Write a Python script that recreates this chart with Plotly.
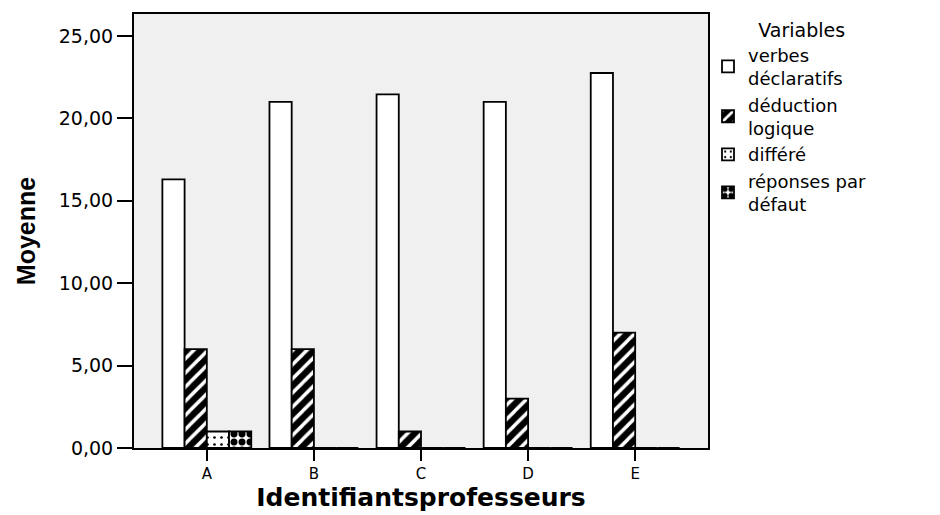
import plotly.graph_objects as go

categories = ["A", "B", "C", "D", "E"]
series_names = ["verbes<br>déclaratifs", "déduction<br>logique", "différé", "réponses par<br>défaut"]
verbes = [16.3, 21.0, 21.45, 21.0, 22.75]
deduction = [6.0, 6.0, 1.0, 3.0, 7.0]
differe = [1.0, 0, 0, 0, 0]
defaut = [1.0, 0, 0, 0, 0]
y_ticks = [0, 5, 10, 15, 20, 25]

patterns = [
    dict(shape=""),
    dict(shape="/", bgcolor="black", fgcolor="white", solidity=0.35, size=10, fillmode="replace"),
    dict(shape=".", bgcolor="white", fgcolor="black", solidity=0.12, size=7, fillmode="replace"),
    dict(shape=".", bgcolor="white", fgcolor="black", solidity=0.6, size=8, fillmode="replace"),
]
values = [verbes, deduction, differe, defaut]

fig = go.Figure()
for i, (name, vals, pat) in enumerate(zip(series_names, values, patterns)):
    fig.add_trace(go.Bar(
        x=categories, y=vals, name=name, legendgroup=f"g{i}",
        marker=dict(color="white", line=dict(color="black", width=1.8), pattern=pat),
    ))

wide = "DejaVu Sans, Verdana, sans-serif"
fig.update_layout(
    width=932, height=507,
    barmode="group", bargap=0.17, bargroupgap=0,
    plot_bgcolor="#f0f0f0", paper_bgcolor="white",
    separators=", ",
    margin=dict(l=126, r=232, t=4, b=67),
    font=dict(family=wide, color="black", size=16),
    showlegend=True,
    legend=dict(
        x=1.0, y=1.005, xanchor="left", yanchor="top",
        title=dict(text="        Variables", font=dict(size=19)),
        font=dict(size=18), tracegroupgap=0, itemwidth=30,
        bgcolor="rgba(0,0,0,0)",
    ),
    xaxis=dict(
        range=[-0.68, 4.68], showline=True, linecolor="black", linewidth=2, mirror=True,
        ticks="outside", ticklen=11, tickwidth=2, tickcolor="black",
        tickfont=dict(size=15),
        title=dict(text="<b>Identifiantsprofesseurs</b>", font=dict(size=25), standoff=3),
    ),
    yaxis=dict(
        range=[0, 26.33], tickvals=y_ticks, tickformat=".2f",
        showline=True, linecolor="black", linewidth=2, mirror=True,
        ticks="outside", ticklen=15, tickwidth=2, tickcolor="black",
        showgrid=False, zeroline=False, tickfont=dict(size=19),
        title=dict(text="<b>Moyenne</b>", font=dict(size=25, family="Liberation Sans, Arial, sans-serif"), standoff=16),
    ),
)

fig.write_html("out.html")
